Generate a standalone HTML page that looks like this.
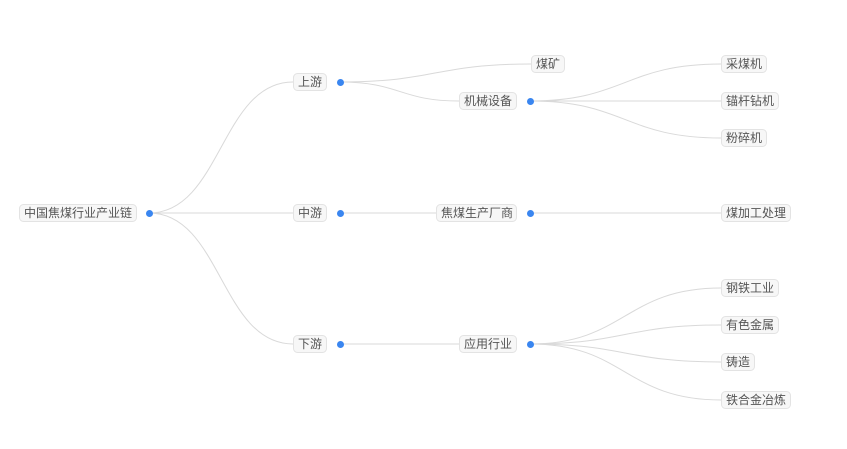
<!DOCTYPE html>
<html><head><meta charset="utf-8"><style>
html,body{margin:0;padding:0;background:#fff;width:847px;height:449px;overflow:hidden}
text{font-family:"Liberation Sans","Noto Sans CJK SC",sans-serif;font-size:12px;fill:#555}
</style></head><body>
<svg width="847" height="449" xmlns="http://www.w3.org/2000/svg">
<g fill="none" stroke="#d9d9d9" stroke-width="1">
<path d="M149,213 C221,213 221,82 293,82"/>
<path d="M149,213 L293,213"/>
<path d="M149,213 C221,213 221,344 293,344"/>
<path d="M340,82 C435,82 435,64 531,64"/>
<path d="M340,82 C400,82 400,101 459,101"/>
<path d="M340,213 L436,213"/>
<path d="M340,344 L459,344"/>
<path d="M530,101 C625,101 625,64 721,64"/>
<path d="M530,101 L721,101"/>
<path d="M530,101 C625,101 625,138 721,138"/>
<path d="M530,213 L721,213"/>
<path d="M530,344 C625,344 625,288 721,288"/>
<path d="M530,344 C625,344 625,325 721,325"/>
<path d="M530,344 C625,344 625,362 721,362"/>
<path d="M530,344 C625,344 625,400 721,400"/>
</g>
<g fill="#f7f7f7" stroke="#e3e3e3" stroke-width="1">
<rect x="19.5" y="204.5" width="117" height="17" rx="4"/>
<rect x="293.5" y="73.5" width="33" height="17" rx="4"/>
<rect x="293.5" y="204.5" width="33" height="17" rx="4"/>
<rect x="293.5" y="335.5" width="33" height="17" rx="4"/>
<rect x="531.5" y="55.5" width="33" height="17" rx="4"/>
<rect x="459.5" y="92.5" width="57" height="17" rx="4"/>
<rect x="436.5" y="204.5" width="80" height="17" rx="4"/>
<rect x="459.5" y="335.5" width="57" height="17" rx="4"/>
<rect x="721.5" y="55.5" width="45" height="17" rx="4"/>
<rect x="721.5" y="92.5" width="57" height="17" rx="4"/>
<rect x="721.5" y="129.5" width="45" height="17" rx="4"/>
<rect x="721.5" y="204.5" width="69" height="17" rx="4"/>
<rect x="721.5" y="279.5" width="57" height="17" rx="4"/>
<rect x="721.5" y="316.5" width="57" height="17" rx="4"/>
<rect x="721.5" y="353.5" width="33" height="17" rx="4"/>
<rect x="721.5" y="391.5" width="69" height="17" rx="4"/>
</g>
<g>
<text x="24" y="217">中国焦煤行业产业链</text>
<text x="298" y="86">上游</text>
<text x="298" y="217">中游</text>
<text x="298" y="348">下游</text>
<text x="536" y="68">煤矿</text>
<text x="464" y="105">机械设备</text>
<text x="441" y="217">焦煤生产厂商</text>
<text x="464" y="348">应用行业</text>
<text x="726" y="68">采煤机</text>
<text x="726" y="105">锚杆钻机</text>
<text x="726" y="142">粉碎机</text>
<text x="726" y="217">煤加工处理</text>
<text x="726" y="292">钢铁工业</text>
<text x="726" y="329">有色金属</text>
<text x="726" y="366">铸造</text>
<text x="726" y="404">铁合金冶炼</text>
</g>
<g fill="#3a86f0">
<circle cx="149.5" cy="213.5" r="3.5"/>
<circle cx="340.5" cy="82.5" r="3.5"/>
<circle cx="340.5" cy="213.5" r="3.5"/>
<circle cx="340.5" cy="344.5" r="3.5"/>
<circle cx="530.5" cy="101.5" r="3.5"/>
<circle cx="530.5" cy="213.5" r="3.5"/>
<circle cx="530.5" cy="344.5" r="3.5"/>
</g>
</svg>
</body></html>
